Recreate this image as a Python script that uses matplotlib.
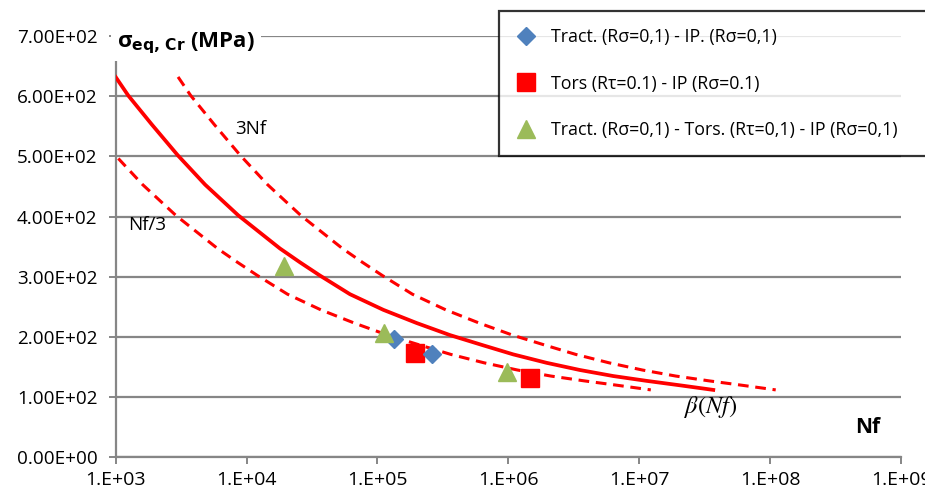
import numpy as np
import matplotlib
matplotlib.use('Agg')
import matplotlib.pyplot as plt
from matplotlib.ticker import FixedLocator, FuncFormatter, NullLocator

plt.rcParams['font.family'] = ['Open Sans', 'DejaVu Sans']

# beta(Nf) curve
nf = [1.0e3, 1.25e3, 1.89e3, 2.98e3, 4.83e3, 8.65e3, 1.8e4, 2.56e4, 3.64e4,
      6.17e4, 1.11e5, 2.0e5, 3.59e5, 6.44e5, 1.09e6, 1.96e6, 3.53e6,
      6.34e6, 1.14e7, 2.05e7, 3.68e7]
sig = [632, 601, 553, 502, 453, 402, 347, 324, 302, 271, 245, 223, 203,
       186, 171, 157, 145, 135, 127, 119.6, 112]

# experimental points
tract_n = [1.34e5, 2.59e5]
tract_s = [197, 172]
tors_n = [1.93e5, 1.47e6]
tors_s = [174, 132]
mix_n = [1.95e4, 1.12e5, 9.75e5]
mix_s = [318, 206.5, 141]

xticks = [1e3, 1e4, 1e5, 1e6, 1e7, 1e8, 1e9]
yticks = [0, 100, 200, 300, 400, 500, 600, 700]

grey = '#868686'
red = '#FF0000'

fig = plt.figure(figsize=(9.25, 4.96), dpi=100)
ax = fig.add_axes([115.6 / 925, 1 - 457.3 / 496, (901 - 115.6) / 925, (457.3 - 36) / 496])

nf_a = np.array(nf)
ax.plot(nf_a, sig, color=red, lw=2.7, zorder=3)
ax.plot(nf_a * 3, sig, color=red, lw=2.2, dashes=(3.5, 2.2), zorder=3)
ax.plot(nf_a / 3, sig, color=red, lw=2.2, dashes=(3.5, 2.2), zorder=3)

h1, = ax.plot(tract_n, tract_s, 'D', color='#4F81BD', ms=9.5, ls='none', zorder=5,
              label='Tract. (R\u03c3=0,1) - IP. (R\u03c3=0,1)')
h2, = ax.plot(tors_n, tors_s, 's', color=red, ms=13, ls='none', zorder=4,
              label='Tors (R\u03c4=0.1) - IP (R\u03c3=0.1)')
h3, = ax.plot(mix_n, mix_s, '^', color='#9BBB59', ms=12.5, ls='none', zorder=5,
              label='Tract. (R\u03c3=0,1) - Tors. (R\u03c4=0,1) - IP (R\u03c3=0,1)')

ax.set_xscale('log')
ax.set_xlim(1e3, 1e9)
ax.set_ylim(0, 700)
ax.xaxis.set_major_locator(FixedLocator(xticks))
ax.xaxis.set_minor_locator(NullLocator())
ax.xaxis.set_major_formatter(FuncFormatter(lambda v, p: '1.E+%02d' % round(np.log10(v))))
ax.yaxis.set_major_locator(FixedLocator(yticks))
ax.yaxis.set_major_formatter(FuncFormatter(lambda v, p: '%.2E' % v))

for s in ['top', 'right']:
    ax.spines[s].set_visible(False)
for s in ['left', 'bottom']:
    ax.spines[s].set_color(grey)
    ax.spines[s].set_linewidth(1.6)
ax.yaxis.grid(True, color=grey, lw=1.6)
ax.set_axisbelow(True)
ax.tick_params(axis='both', direction='out', length=5, width=1.4, color=grey,
               labelcolor='black')
ax.tick_params(axis='y', pad=8, labelsize=13.6)
ax.tick_params(axis='x', pad=5, labelsize=14)

ax.text(1.08e4, 545, '3Nf', fontsize=13.5, ha='center', va='center')
ax.text(1.74e3, 386, 'Nf/3', fontsize=13.5, ha='center', va='center')
ax.text(3.5e7, 83, r'$\beta(Nf)$', fontsize=17.5, ha='center', va='center',
        math_fontfamily='stix')
ax.text(5.6e8, 49, 'Nf', fontsize=15, fontweight='bold', ha='center', va='center')

fig.text(117 / 925, 1 - 43 / 496, '\u03c3' + r'$_{\mathbf{eq,\,Cr}}$' + ' (MPa)',
         fontsize=16, fontweight='bold', ha='left', va='center',
         bbox=dict(facecolor='white', edgecolor='none', pad=4))

leg = ax.legend(handles=[h1, h2, h3], loc='upper left',
                bbox_to_anchor=(499 / 925, 1 - 157 / 496, 460 / 925, 146 / 496),
                bbox_transform=fig.transFigure, mode='expand', borderaxespad=0,
                fontsize=12.8, frameon=True, fancybox=False, numpoints=1,
                handlelength=1.1, handletextpad=0.86, labelspacing=1.62,
                borderpad=0.95)
leg.get_frame().set_edgecolor('black')
leg.get_frame().set_linewidth(1.6)
leg.set_zorder(10)

fig.savefig('out.png', dpi=100)
